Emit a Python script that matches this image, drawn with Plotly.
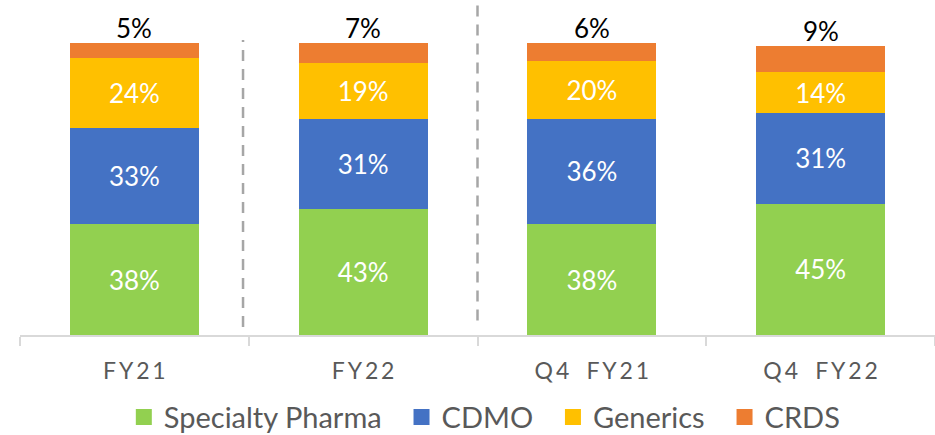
import plotly.graph_objects as go

categories = ["FY21", "FY22", "Q4 FY21", "Q4 FY22"]
tick_labels = ["F\u2009Y\u20092\u20091", "F\u2009Y\u20092\u20092", "Q\u20094\u2003F\u2009Y\u20092\u20091", "Q\u20094\u2003F\u2009Y\u20092\u20092"]
specialty_pharma = [38, 43, 38, 45]
cdmo = [33, 31, 36, 31]
generics = [24, 19, 20, 14]
crds = [5, 7, 6, 9]

series = [
    ("Specialty Pharma", specialty_pharma, "#92D050"),
    ("CDMO", cdmo, "#4472C4"),
    ("Generics", generics, "#FFC000"),
    ("CRDS", crds, "#ED7D31"),
]

FONT = "Lato"
PAD = "\u00a0\u00a0"
fig = go.Figure()
for i, (name, vals, color) in enumerate(series):
    inside = name != "CRDS"
    fig.add_trace(go.Bar(
        x=categories, y=vals, name=name, marker=dict(color=color, line=dict(width=0)),
        text=[f"{v}%" for v in vals] if inside else None,
        textposition="inside" if inside else "none",
        insidetextanchor="middle",
        constraintext="none",
        textfont=dict(color="white", size=26, family=FONT),
        showlegend=False,
    ))
    fig.add_trace(go.Scatter(
        x=[None], y=[None], mode="markers", name=name + (PAD if i < len(series) - 1 else ""),
        marker=dict(symbol="square", size=16, color=color),
        showlegend=True,
    ))

totals = [a + b + c + d for a, b, c, d in zip(specialty_pharma, cdmo, generics, crds)]
for cat, tot, v in zip(categories, totals, crds):
    fig.add_annotation(x=cat, y=tot, text=f"{v}%", showarrow=False, yanchor="bottom",
                       yshift=-3, font=dict(color="black", size=26, family=FONT))

dash_style = dict(color="#A6A6A6", width=2.5, dash="11px,8px")
fig.add_shape(type="line", xref="x", yref="paper", x0=0.475, x1=0.475, y0=0.027, y1=1.01, line=dash_style)
fig.add_shape(type="line", xref="x", yref="paper", x0=1.5, x1=1.5, y0=0.05, y1=1.13, line=dash_style)

fig.update_layout(
    width=935, height=435,
    margin=dict(l=20, r=0, t=43, b=100, autoexpand=False),
    barmode="stack", bargap=0.437,
    plot_bgcolor="white", paper_bgcolor="white",
    font=dict(family=FONT, color="#595959"),
    legend=dict(orientation="h", traceorder="normal", x=0.508, xanchor="center", y=-0.281, yanchor="middle",
                font=dict(size=29, color="#595959", family=FONT), itemwidth=30),
    xaxis=dict(range=[-0.5, 3.5], tickmode="array", tickvals=categories, ticktext=tick_labels,
               tickson="boundaries", ticks="outside", ticklen=9, tickcolor="#D9D9D9", tickwidth=1.5,
               showline=True, linecolor="#D9D9D9", linewidth=1.5, automargin=False,
               ticklabelstandoff=15,
               tickfont=dict(size=23, color="#595959", family=FONT), showgrid=False),
    yaxis=dict(range=[0, 100], visible=False, automargin=False),
)
fig.write_html("out.html", config={"displayModeBar": False},
               post_script="document.body.style.margin='0';document.body.style.overflow='hidden';")
